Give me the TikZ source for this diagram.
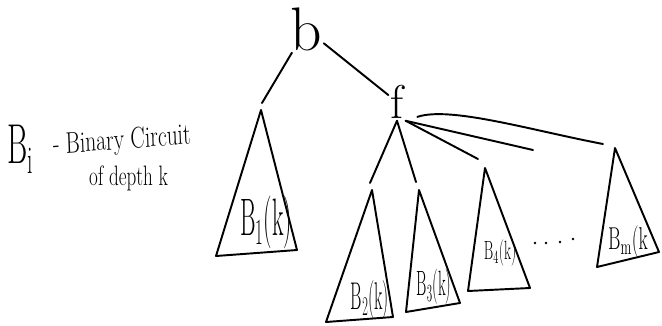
\documentclass[tikz,border=0pt]{standalone}
\usepackage{fontspec}
\usetikzlibrary{positioning, calc}

\begin{document}
\begin{tikzpicture}[x=0.02cm, y=-0.02cm,
    pen/.style={line width=1.1pt, line cap=round, line join=round},
    hand/.style={inner sep=0pt, xscale=#1},
    hand/.default=0.5]
  \useasboundingbox (0,0) rectangle (662,325);

  % Legend
  \node[hand=0.55, font=\fontsize{32}{32}\selectfont, anchor=base west] (leg) at (7,163) {B\textsubscript{i}};
  \node[hand=0.72, font=\fontsize{17}{17}\selectfont, rotate=3, anchor=base west] (def) at (53,154) {- Binary Circuit};
  \node[hand=0.68, font=\fontsize{16}{16}\selectfont, anchor=base west] (dep) at (89,185) {of depth k};

  % Gates
  \node[font=\fontsize{35}{35}\selectfont, inner sep=1pt] (b) at (306,29) {b};
  \node[font=\fontsize{27}{27}\selectfont, inner sep=1pt] (f) at (397,102) {f};

  % Ends of the wires
  \coordinate (t1top) at (262,103);
  \coordinate (t2top) at (370,183);
  \coordinate (t3top) at (416,182);
  \coordinate (t4top) at (478,159);
  \coordinate (more) at (533,150);
  \coordinate (tmtop) at (603,144);

  % Wires
  \draw[pen] (b) -- (t1top);
  \draw[pen] (b) -- (f);
  \draw[pen] (f.south) -- (t2top);
  \draw[pen] (f.south) -- (t3top);
  \draw[pen] (f.south east) -- (t4top);
  \draw[pen] (f.south east) -- (more);
  \draw[pen, shorten <=7pt] (f.south east) .. controls (450,106) and (530,130) .. (tmtop);

  % Sub-circuits
  \draw[pen] (261,110) -- (216,256) -- (297,250) -- cycle;
  \draw[pen] (372,190) -- (326,322) -- (393,317) -- cycle;
  \draw[pen] (419,190) -- (406,312) -- (460,303) -- cycle;
  \draw[pen] (485,168) -- (468,291) -- (530,288) -- cycle;
  \draw[pen] (615,148) -- (597,267) -- (659,252) -- cycle;

  % Labels
  \node[hand=0.45, font=\fontsize{30}{30}\selectfont] (l1) at (266,222) {B\textsubscript{1}(k)};
  \node[hand=0.45, font=\fontsize{22}{22}\selectfont] (l2) at (370,300) {B\textsubscript{2}(k)};
  \node[hand=0.45, font=\fontsize{20}{20}\selectfont] (l3) at (434,287) {B\textsubscript{3}(k)};
  \node[hand=0.55, font=\fontsize{15}{15}\selectfont] (l4) at (500,253) {B\textsubscript{4}(k)};
  \node[hand=0.6, font=\fontsize{18}{18}\selectfont] (lm) at (628,242) {B\textsubscript{m}(k};

  % Dots
  \foreach \x/\y in {535/243, 546/243, 560/242, 573/239}
    \fill (\x,\y) circle (1.3);
\end{tikzpicture}
\end{document}
